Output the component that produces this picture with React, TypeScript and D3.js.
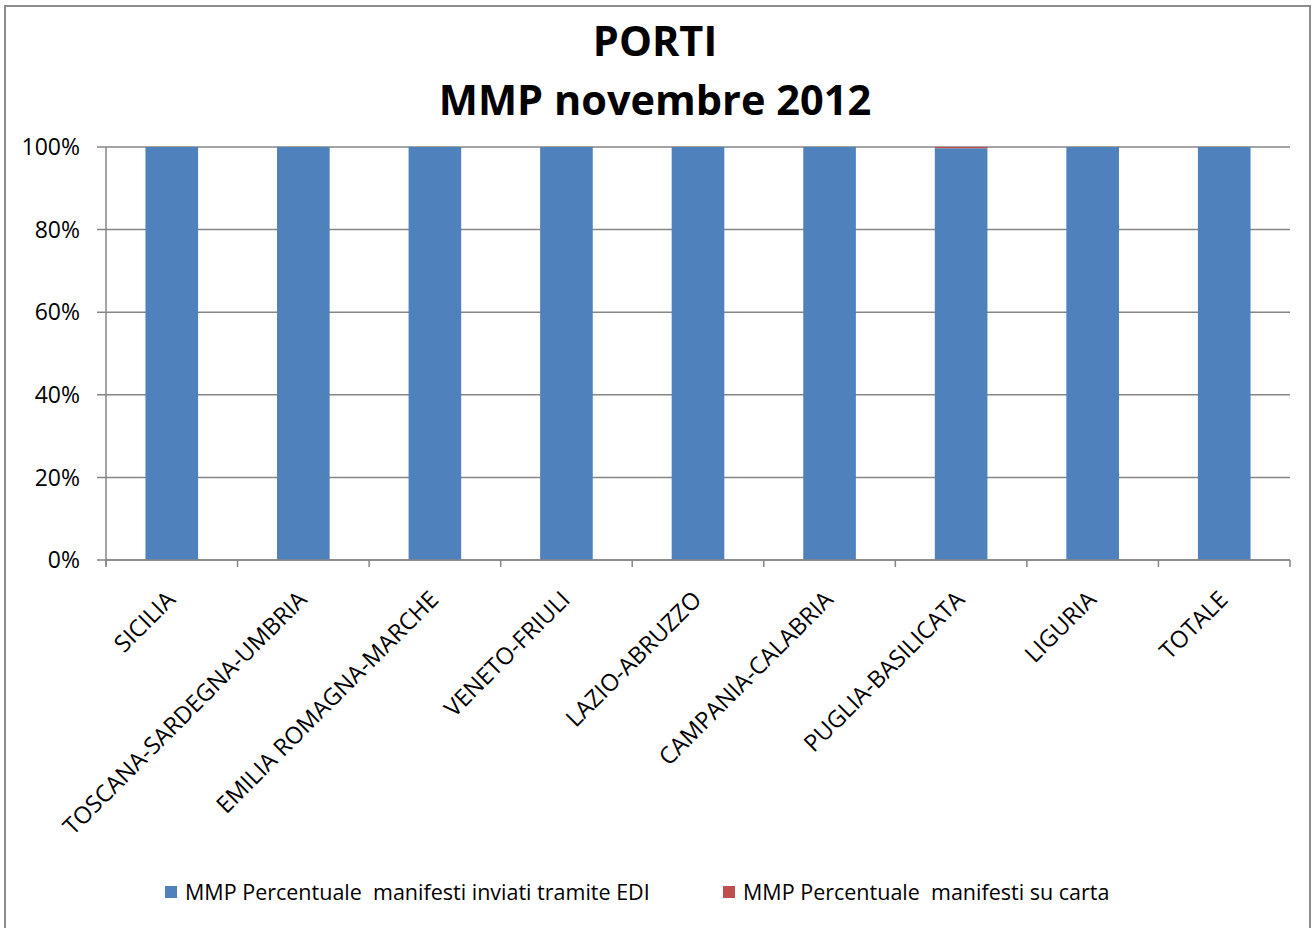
import React from "react";
import * as d3 from "d3";

const categories = [
  "SICILIA",
  "TOSCANA-SARDEGNA-UMBRIA",
  "EMILIA ROMAGNA-MARCHE",
  "VENETO-FRIULI",
  "LAZIO-ABRUZZO",
  "CAMPANIA-CALABRIA",
  "PUGLIA-BASILICATA",
  "LIGURIA",
  "TOTALE",
];
const ediValues = [100, 100, 100, 100, 100, 100, 99.7, 100, 100];
const cartaValues = [0, 0, 0, 0, 0, 0, 0.3, 0, 0];
const yTicks = [0, 20, 40, 60, 80, 100];
const seriesNames = [
  "MMP Percentuale  manifesti inviati tramite EDI",
  "MMP Percentuale  manifesti su carta",
];
const seriesColors = ["#4F81BD", "#C0504D"];

const W = 1314;
const H = 928;
const left = 106;
const right = 1290;
const top = 147;
const bottom = 560;
const FONT = "'Open Sans', 'Noto Sans', sans-serif";

export default function App() {
  const x = d3
    .scaleBand<string>()
    .domain(categories)
    .range([left, right])
    .paddingInner(0.6)
    .paddingOuter(0.3);
  const y = d3.scaleLinear().domain([0, 100]).range([bottom, top]);
  const step = (right - left) / categories.length;
  const stacked = d3
    .stack<any>()
    .keys(["edi", "carta"])(
      categories.map((c, i) => ({ cat: c, edi: ediValues[i], carta: cartaValues[i] }))
    );
  const grid = "#868686";

  return (
    <svg
      width={W}
      height={H}
      style={{ position: "fixed", left: 0, top: 0, background: "#fff" }}
      fontFamily={FONT}
    >
      <rect x={0} y={0} width={W} height={H} fill="#fff" />
      <rect x={5} y={6} width={1305} height={940} fill="none" stroke="#8c8c8c" strokeWidth={2} />

      <text x={655} y={56} textAnchor="middle" fontSize={41.5} fontWeight="bold" fill="#000">
        PORTI
      </text>
      <text x={655} y={115} textAnchor="middle" fontSize={41.5} fontWeight="bold" fill="#000">
        MMP novembre 2012
      </text>

      {yTicks.map((t) => (
        <g key={t}>
          <line x1={97} x2={right} y1={y(t)} y2={y(t)} stroke={grid} strokeWidth={1.5} />
          <text x={80} y={y(t)} dy="0.36em" textAnchor="end" fontSize={23} fill="#000">
            {t}%
          </text>
        </g>
      ))}
      <line x1={left} x2={left} y1={top} y2={bottom + 6} stroke={grid} strokeWidth={1.5} />

      {stacked.map((s, si) =>
        s.map((d, i) => {
          const h = y(d[0]) - y(d[1]);
          if (h <= 0) return null;
          return (
            <rect
              key={si + "-" + i}
              x={x(categories[i])}
              y={y(d[1])}
              width={x.bandwidth()}
              height={h}
              fill={seriesColors[si]}
            />
          );
        })
      )}

      <line x1={left} x2={right} y1={bottom} y2={bottom} stroke={grid} strokeWidth={1.5} />
      {d3.range(categories.length + 1).map((k) => (
        <line
          key={k}
          x1={left + k * step}
          x2={left + k * step}
          y1={bottom}
          y2={bottom + 7}
          stroke={grid}
          strokeWidth={1.5}
        />
      ))}

      {categories.map((c) => {
        const cx = (x(c) as number) + x.bandwidth() / 2;
        return (
          <text
            key={c}
            transform={`translate(${cx + 5},${bottom + 41}) rotate(-45)`}
            textAnchor="end"
            fontSize={23.5}
            fill="#000"
          >
            {c}
          </text>
        );
      })}

      {seriesNames.map((n, i) => {
        const lx = i === 0 ? 165 : 723;
        return (
          <g key={n}>
            <rect x={lx} y={886} width={12} height={12} fill={seriesColors[i]} />
            <text x={lx + 20} y={900} fontSize={21.5} fill="#000" style={{ whiteSpace: "pre" }}>
              {n}
            </text>
          </g>
        );
      })}
    </svg>
  );
}
